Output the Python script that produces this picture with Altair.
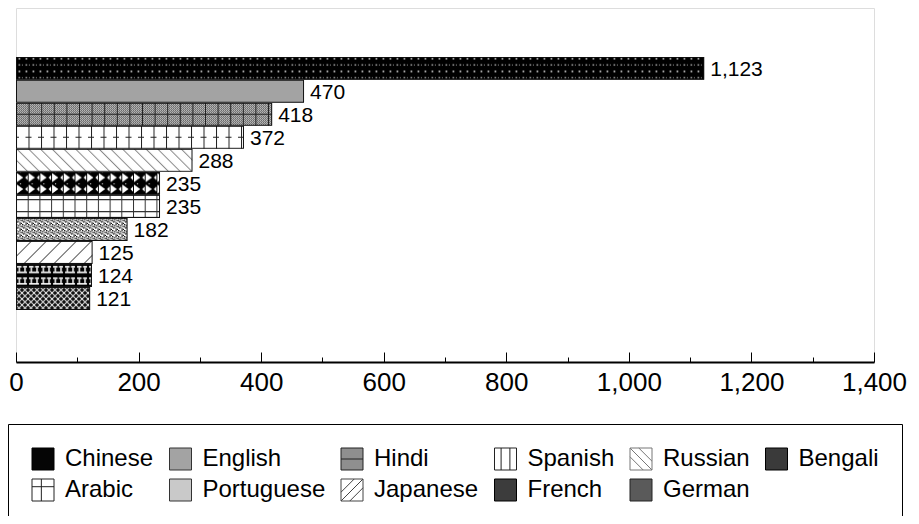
import base64
import altair as alt
import pandas as pd

# ---------------- data ----------------
languages = ["Chinese", "English", "Hindi", "Spanish", "Russian", "Bengali",
             "Arabic", "Portuguese", "Japanese", "French", "German"]
speakers = [1123, 470, 418, 372, 288, 235, 235, 182, 125, 124, 121]
label_values = [0, 200, 400, 600, 800, 1000, 1200, 1400]
major_ticks = [0, 200, 400, 600, 800, 1000, 1200, 1400]
minor_ticks = [100, 300, 500, 700, 900, 1100, 1300]

FONT = "Liberation Sans"

# ---------------- pattern styles (SVG fills for bars) ----------------
def svg_uri(defs, body):
    s = ('<svg xmlns="http://www.w3.org/2000/svg" width="100%" height="100%">'
         f'<defs>{defs}</defs>{body}'
         '<rect x="0" y="0" width="100%" height="100%" fill="none" stroke="#111" stroke-width="2"/></svg>')
    return "data:image/svg+xml;base64," + base64.b64encode(s.encode()).decode()


def pat(pid, w, h, content, transform=""):
    t = f' patternTransform="{transform}"' if transform else ""
    return (f'<pattern id="{pid}" x="0" y="0" width="{w}" height="{h}" '
            f'patternUnits="userSpaceOnUse"{t}>{content}</pattern>')


def fill(pid):
    return f'<rect width="100%" height="100%" fill="url(#{pid})"/>'


def solid(c):
    return f'<rect width="100%" height="100%" fill="{c}"/>'


vlines = lambda pid, step, col: pat(pid, step, 10, f'<rect x="0" y="0" width="1" height="10" fill="{col}"/>')

patterns = {
    "Chinese": svg_uri(
        pat("a", 7, 12.8,
            '<rect width="7" height="12.8" fill="#000"/>'
            '<rect x="2.6" y="1.2" width="1.5" height="1.5" fill="#fff"/>'
            '<rect x="2.6" y="7.6" width="1.3" height="1.3" fill="#eee"/>'
            '<rect x="6" y="7.8" width="1" height="1" fill="#999"/>'),
        fill("a")),
    "English": svg_uri("", solid("#a3a3a3")),
    "Hindi": svg_uri(
        pat("c", 2, 2, '<rect width="2" height="2" fill="#d2d2d2"/>'
                       '<rect x="0" y="0" width="1" height="1" fill="#505050"/>'
                       '<rect x="1" y="1" width="1" height="1" fill="#505050"/>')
        + vlines("v", 12.6, "#222"),
        fill("c") + fill("v")
        + '<line x1="0" x2="100%" y1="50%" y2="50%" stroke="#222" stroke-width="1"/>'),
    "Spanish": svg_uri(
        vlines("v", 12.5, "#222"),
        solid("#fff") + fill("v")
        + '<line x1="0" x2="100%" y1="50%" y2="50%" stroke="#222" stroke-width="1" '
          'stroke-dasharray="6 6.5" stroke-dashoffset="3"/>'),
    "Russian": svg_uri(
        pat("d", 8.3, 8.3, '<rect x="0" y="0" width="1" height="8.3" fill="#8a8a8a"/>', "rotate(-45)"),
        solid("#fff") + fill("d")),
    "Bengali": svg_uri(
        pat("b", 11.7, 11.5,
            '<rect width="11.7" height="11.5" fill="#000"/>'
            '<polygon points="1,1.2 7.2,5.75 1,10.3" fill="#fff"/>'
            '<polygon points="11.7,3.2 9.2,5.75 11.7,8.3" fill="#fff"/>'
            '<rect x="4" y="0" width="1" height="1" fill="#fff"/>'),
        fill("b")),
    "Arabic": svg_uri(
        vlines("v", 11.7, "#333"),
        solid("#fff") + fill("v")
        + '<line x1="0" x2="100%" y1="21%" y2="21%" stroke="#333" stroke-width="1.2"/>'
        + '<line x1="0" x2="100%" y1="73%" y2="73%" stroke="#333" stroke-width="1.2"/>'),
    "Portuguese": svg_uri(
        pat("p", 6, 6,
            '<rect width="6" height="6" fill="#fff"/>'
            '<rect x="0" y="0" width="1.3" height="1.3" fill="#000"/>'
            '<rect x="2" y="1" width="1.3" height="1.3" fill="#000"/>'
            '<rect x="4.5" y="2" width="1.3" height="1.3" fill="#000"/>'
            '<rect x="1" y="3.5" width="1.3" height="1.3" fill="#000"/>'
            '<rect x="3.5" y="4.5" width="1.3" height="1.3" fill="#000"/>'
            '<rect x="3.6" y="0" width="1.2" height="1.2" fill="#000"/>'
            '<rect x="0" y="2.3" width="1.2" height="1.2" fill="#000"/>'
            '<rect x="5" y="5" width="1" height="1" fill="#000"/>'
            '<rect x="2.5" y="3" width="1" height="1" fill="#000"/>'),
        fill("p")),
    "Japanese": svg_uri(
        pat("j", 10.6, 10.6, '<rect x="0" y="0" width="1" height="10.6" fill="#555"/>', "rotate(45)"),
        solid("#fff") + fill("j")),
    "French": svg_uri(
        pat("f", 12, 11.5,
            '<rect width="12" height="11.5" fill="#000"/>'
            '<rect x="1" y="2" width="4.5" height="1.6" fill="#fff"/>'
            '<rect x="7" y="2" width="4" height="1.6" fill="#fff"/>'
            '<rect x="2.5" y="3.6" width="1.5" height="4" fill="#fff"/>'
            '<rect x="8.3" y="3.6" width="1.5" height="4" fill="#fff"/>'
            '<rect x="1" y="7.6" width="10" height="1.6" fill="#fff"/>'),
        fill("f")),
    "German": svg_uri(
        pat("g", 6, 6,
            '<rect width="6" height="6" fill="#111"/>'
            '<path d="M0,0L6,6M6,0L0,6" stroke="#fff" stroke-width="0.9"/>'),
        fill("g")),
}

SQ = "M-1,-1H1V1H-1Z"
legend_shapes = [
    SQ,
    SQ,
    SQ + "M-1,0H1",
    SQ + "M-0.4,-1V1M0.4,-1V1",
    SQ + "M-1,-1L1,1M-0.2,-1L1,0.2M-1,-0.2L0.2,1",
    SQ,
    SQ + "M-0.15,-1V1M-1,-0.3H1",
    SQ,
    SQ + "M-1,1L1,-1M-1,0.2L0.2,-1M-0.2,1L1,-0.2",
    SQ,
    SQ,
]
legend_fills = ["#050505", "#a3a3a3", "#8f8f8f", "#ffffff", "#ffffff", "#3a3a3a",
                "#ffffff", "#c9c9c9", "#ffffff", "#3c3c3c", "#5a5a5a"]
legend_strokes = ["#000000", "#333333", "#222222", "#222222", "#777777", "#000000",
                  "#222222", "#333333", "#444444", "#000000", "#222222"]

df = pd.DataFrame({
    "Language": languages,
    "Speakers": speakers,
    "url": [patterns[l] for l in languages],
})

PLOT_W, PLOT_H = 858, 354
BAND_TOP, BAND_BOTTOM = 48.7, 302

xscale = alt.Scale(domain=[0, 1400], nice=False)
yenc = alt.Y("Language:N", sort=languages,
             scale=alt.Scale(paddingInner=0, paddingOuter=0, range=[BAND_TOP, BAND_BOTTOM]),
             axis=None)

legend = alt.Legend(
    title=None, orient="none", legendX=-8, legendY=416, columns=6, direction="horizontal",
    symbolSize=484, symbolStrokeWidth=1, symbolOpacity=1,
    labelFont=FONT, labelFontSize=24, labelColor="black", labelOffset=10,
    columnPadding=13.5, rowPadding=5, padding=23,
    strokeColor="black", fillColor="white", labelLimit=300,
)

base = alt.Chart(df).transform_calculate(half="datum.Speakers / 2")

points = base.mark_point(filled=False, size=20, strokeWidth=1, opacity=1).encode(
    x=alt.X("half:Q", scale=xscale,
            axis=alt.Axis(orient="top", offset=-PLOT_H, values=minor_ticks, labels=False,
                          domain=False, ticks=True, tickSize=5, tickColor="black",
                          tickWidth=1, grid=False, title=None)),
    y=yenc,
    fill=alt.Fill("Language:N", scale=alt.Scale(domain=languages, range=legend_fills), legend=legend),
    stroke=alt.Stroke("Language:N", scale=alt.Scale(domain=languages, range=legend_strokes), legend=legend),
    shape=alt.Shape("Language:N", scale=alt.Scale(domain=languages, range=legend_shapes), legend=legend),
)

bars = base.mark_image(aspect=False).encode(
    x=alt.X("Speakers:Q", scale=xscale,
            axis=alt.Axis(values=label_values, labelExpr="format(datum.value, ',')", title=None,
                          ticks=False, tickSize=0,
                          labelFontSize=26, labelFont=FONT, labelColor="black", labelPadding=7,
                          labelFlush=False, labelOverlap=False, domainColor="black",
                          domainWidth=2, grid=False)),
    x2=alt.datum(0),
    y=yenc,
    url=alt.Url("url:N"),
)

labels = base.mark_text(align="left", baseline="middle", dx=6, dy=1.5, fontSize=21,
                        font=FONT, color="black").encode(
    x=alt.X("Speakers:Q", scale=xscale,
            axis=alt.Axis(orient="top", offset=-PLOT_H, values=major_ticks, labels=False,
                          domain=False, ticks=True, tickSize=10, tickColor="black",
                          tickWidth=1, grid=False, title=None)),
    y=yenc,
    text=alt.Text("Speakers:Q", format=","),
)

chart = alt.layer(points, bars, labels).resolve_axis(x="independent").properties(
    width=PLOT_W, height=PLOT_H,
    autosize=alt.AutoSizeParams(type="none"),
    padding={"left": 8, "top": 0, "right": 37, "bottom": 154},
).configure_view(stroke="black", strokeWidth=1.5).configure(background="white")

chart.save("out.html", embed_options={"renderer": "svg", "actions": False})
